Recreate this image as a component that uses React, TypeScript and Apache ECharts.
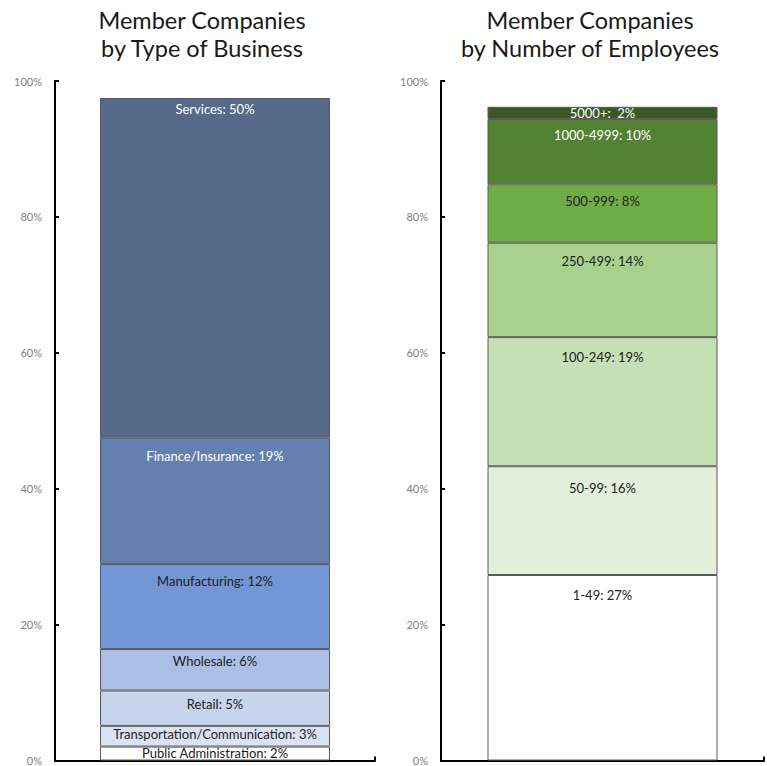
import React, { useEffect, useRef } from "react";
import * as echarts from "echarts";

const businessNames = [
  "Public Administration",
  "Transportation/Communication",
  "Retail",
  "Wholesale",
  "Manufacturing",
  "Finance/Insurance",
  "Services",
];
const businessValues = [2.05, 3.05, 5.2, 6.1, 12.5, 18.6, 50.0];
const businessLabels = ["2%", "3%", "5%", "6%", "12%", "19%", "50%"];
const businessColors = ["#ffffff", "#dae3f3", "#c7d4ee", "#abbfe6", "#7396d6", "#6380b0", "#576a8c"];
const businessTextColors = ["#222", "#222", "#222", "#222", "#222", "#fff", "#fff"];
const businessLabelDistance = [0, 2, 7, 5, 10, 12, 5];

const employeeNames = ["1-49", "50-99", "100-249", "250-499", "500-999", "1000-4999", "5000+"];
const employeeValues = [27.3, 16.0, 19.0, 13.9, 8.6, 9.6, 1.8];
const employeeLabels = ["27%", "16%", "19%", "14%", "8%", "10%", " 2%"];
const employeeColors = ["#ffffff", "#e2efda", "#c5e0b4", "#a9d18e", "#70ad47", "#548235", "#3a5a25"];
const employeeTextColors = ["#222", "#222", "#222", "#222", "#222", "#fff", "#fff"];
const employeeLabelDistance = [14, 15, 13, 12, 10, 9, 0];

const yTicks = [0, 20, 40, 60, 80, 100];

const FONT = "Lato, 'Noto Sans', sans-serif";

export default function App() {
  const ref = useRef<HTMLDivElement>(null);
  useEffect(() => {
    if (!ref.current) return;
    const chart = echarts.init(ref.current, null, { renderer: "svg" });

    const mkSeries = (
      names: string[],
      values: number[],
      labels: string[],
      colors: string[],
      textColors: string[],
      distances: number[],
      idx: number,
      stack: string
    ) =>
      names.map((n, i) => ({
        type: "bar",
        name: n,
        stack,
        xAxisIndex: idx,
        yAxisIndex: idx,
        barWidth: 230,
        data: [values[i]],
        itemStyle: { color: colors[i], borderColor: "#5a5a5a", borderWidth: 1 },
        label: {
          show: true,
          position: "insideTop",
          distance: distances[i],
          formatter: `${n}: ${labels[i]}`,
          color: textColors[i],
          fontSize: 13,
          fontFamily: FONT,
        },
      }));

    const yAxisBase = {
      type: "value",
      min: 0,
      max: 100,
      interval: 20,
      axisLine: { show: true, lineStyle: { color: "#000", width: 2 } },
      axisTick: { show: true, inside: true, length: 4, lineStyle: { color: "#000", width: 2 } },
      splitLine: { show: false },
      axisLabel: {
        formatter: (v: number) => (yTicks.includes(v) ? `${v}%` : ""),
        color: "#808080",
        fontSize: 11,
        fontFamily: FONT,
        margin: 13,
      },
    };
    const xAxisBase = {
      type: "category",
      data: [""],
      axisLine: { show: true, lineStyle: { color: "#000", width: 2 } },
      axisTick: { show: true, inside: true, length: 4, lineStyle: { color: "#000", width: 2 } },
      axisLabel: { show: false },
    };

    const titleStyle = { fontSize: 23.5, fontWeight: "normal", color: "#1a1a1a", fontFamily: FONT, lineHeight: 28 };

    chart.setOption({
      animation: false,
      title: [
        {
          text: "Member Companies\nby Type of Business",
          left: 197,
          textAlign: "center",
          top: 1,
          textStyle: titleStyle,
        },
        {
          text: "Member Companies\nby Number of Employees",
          left: 585,
          textAlign: "center",
          top: 1,
          textStyle: titleStyle,
        },
      ],
      grid: [
        { left: 55, right: 392, top: 81, bottom: 3 },
        { left: 441, right: 3, top: 81, bottom: 3 },
      ],
      xAxis: [
        { ...xAxisBase, gridIndex: 0 },
        { ...xAxisBase, gridIndex: 1 },
      ],
      yAxis: [
        { ...yAxisBase, gridIndex: 0 },
        { ...yAxisBase, gridIndex: 1 },
      ],
      series: [
        ...mkSeries(businessNames, businessValues, businessLabels, businessColors, businessTextColors, businessLabelDistance, 0, "biz"),
        ...mkSeries(employeeNames, employeeValues, employeeLabels, employeeColors, employeeTextColors, employeeLabelDistance, 1, "emp"),
      ],
    });
    return () => chart.dispose();
  }, []);
  return <div ref={ref} style={{ width: 767, height: 766, position: "absolute", left: 0, top: 0 }} />;
}
